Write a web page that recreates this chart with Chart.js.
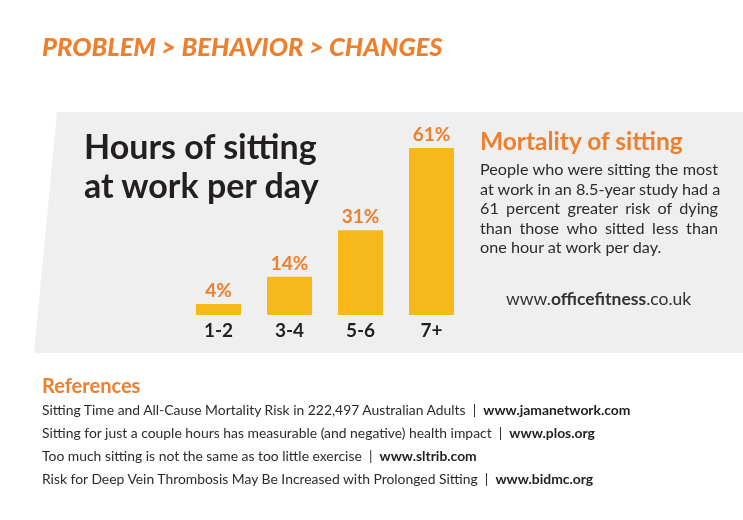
<!DOCTYPE html>
<html lang="en">
<head>
<meta charset="UTF-8">
<title>Hours of sitting at work per day</title>
<script src="https://cdn.jsdelivr.net/npm/chart.js@4.4.1/dist/chart.umd.min.js"></script>
<style>
  body { margin: 0; background: #fff; font-family: Lato, "Open Sans", sans-serif; }
  #wrap { position: relative; width: 743px; height: 520px; overflow: hidden; background: #fff; }
  #panel {
    position: absolute; left: 0; top: 0; width: 743px; height: 520px; background: #efeff0;
    clip-path: polygon(57px 112px, 743px 112px, 743px 353px, 34px 353px);
  }
  #chart { position: absolute; left: 0; top: 0; }
  .abs { position: absolute; white-space: nowrap; }
  .orange { color: #ee7f2d; }
  #hdr { left: 42px; top: 31px; font-size: 25.5px; line-height: 1.2; font-weight: 900; font-style: italic; }
  #title { left: 84px; top: 126px; font-size: 34px; line-height: 39px; font-weight: 700; color: #231f20; }
  #side-h { left: 480px; top: 126px; font-size: 24.5px; line-height: 1.2; font-weight: 700; }
  #side-p { left: 480px; top: 159px; width: 238px; font-size: 16.2px; line-height: 19.6px; color: #2b2b2b; }
  #side-p div { white-space: nowrap; }
  #side-p .j { text-align: justify; text-align-last: justify; }
  #site { left: 506px; top: 288px; font-size: 17.5px; line-height: 1.2; color: #333; }
  #refs-h { left: 42px; top: 373px; font-size: 20px; line-height: 1.2; font-weight: 700; }
  #refs { left: 42px; top: 398px; font-size: 13.9px; line-height: 23px; color: #2b2b2b; }
  #refs b { color: #1f1f1f; }
</style>
</head>
<body>
<div id="wrap">
  <div id="panel"></div>
  <canvas id="chart" width="743" height="520"></canvas>
  <div id="hdr" class="abs orange">PROBLEM &gt; BEHAVIOR &gt; CHANGES</div>
  <div id="title" class="abs">Hours of sitting<br>at work per day</div>
  <div id="side-h" class="abs orange">Mortality of sitting</div>
  <div id="side-p" class="abs">
    <div class="j">People who were sitting the most</div>
    <div class="j">at work in an 8.5-year study had a</div>
    <div class="j">61 percent greater risk of dying</div>
    <div class="j">than those who sitted less than</div>
    <div>one hour at work per day.</div>
  </div>
  <div id="site" class="abs">www.<b>officefitness</b>.co.uk</div>
  <div id="refs-h" class="abs orange">References</div>
  <div id="refs" class="abs">
    Sitting Time and All-Cause Mortality Risk in 222,497 Australian Adults &nbsp;|&nbsp; <b>www.jamanetwork.com</b><br>
    Sitting for just a couple hours has measurable (and negative) health impact &nbsp;|&nbsp; <b>www.plos.org</b><br>
    Too much sitting is not the same as too little exercise &nbsp;|&nbsp; <b>www.sltrib.com</b><br>
    Risk for Deep Vein Thrombosis May Be Increased with Prolonged Sitting &nbsp;|&nbsp; <b>www.bidmc.org</b>
  </div>
</div>

<script>
// data
const hours = ['1-2', '3-4', '5-6', '7+'];
const riskPct = [4, 14, 31, 61];
const yMax = 70;

// percent label above each bar
const valueLabels = {
  id: 'valueLabels',
  afterDatasetsDraw(chart) {
    const ctx = chart.ctx;
    const meta = chart.getDatasetMeta(0);
    ctx.save();
    ctx.font = 'bold 19px Lato, "Open Sans", sans-serif';
    ctx.fillStyle = '#ee7f2d';
    ctx.textAlign = 'center';
    ctx.textBaseline = 'alphabetic';
    meta.data.forEach((bar, i) => {
      ctx.fillText(riskPct[i] + '%', bar.x, bar.y - 7);
    });
    ctx.restore();
  }
};

new Chart(document.getElementById('chart'), {
  type: 'bar',
  data: {
    labels: hours,
    datasets: [{
      data: riskPct,
      backgroundColor: '#f7b81b',
      borderWidth: 0,
      categoryPercentage: 1,
      barPercentage: 0.634
    }]
  },
  options: {
    responsive: false,
    animation: false,
    devicePixelRatio: 1,
    layout: { padding: { left: 183, right: 276, top: 123.5, bottom: 175 } },
    plugins: { legend: { display: false }, tooltip: { enabled: false } },
    scales: {
      x: {
        grid: { display: false, drawTicks: false },
        border: { display: false },
        ticks: {
          color: '#231f20',
          padding: 4,
          font: { family: 'Lato, "Open Sans", sans-serif', size: 19, weight: 'bold' }
        },
        afterFit(scale) { scale.height = 30; }
      },
      y: { display: false, min: 0, max: yMax }
    }
  },
  plugins: [valueLabels]
});
</script>
</body>
</html>
